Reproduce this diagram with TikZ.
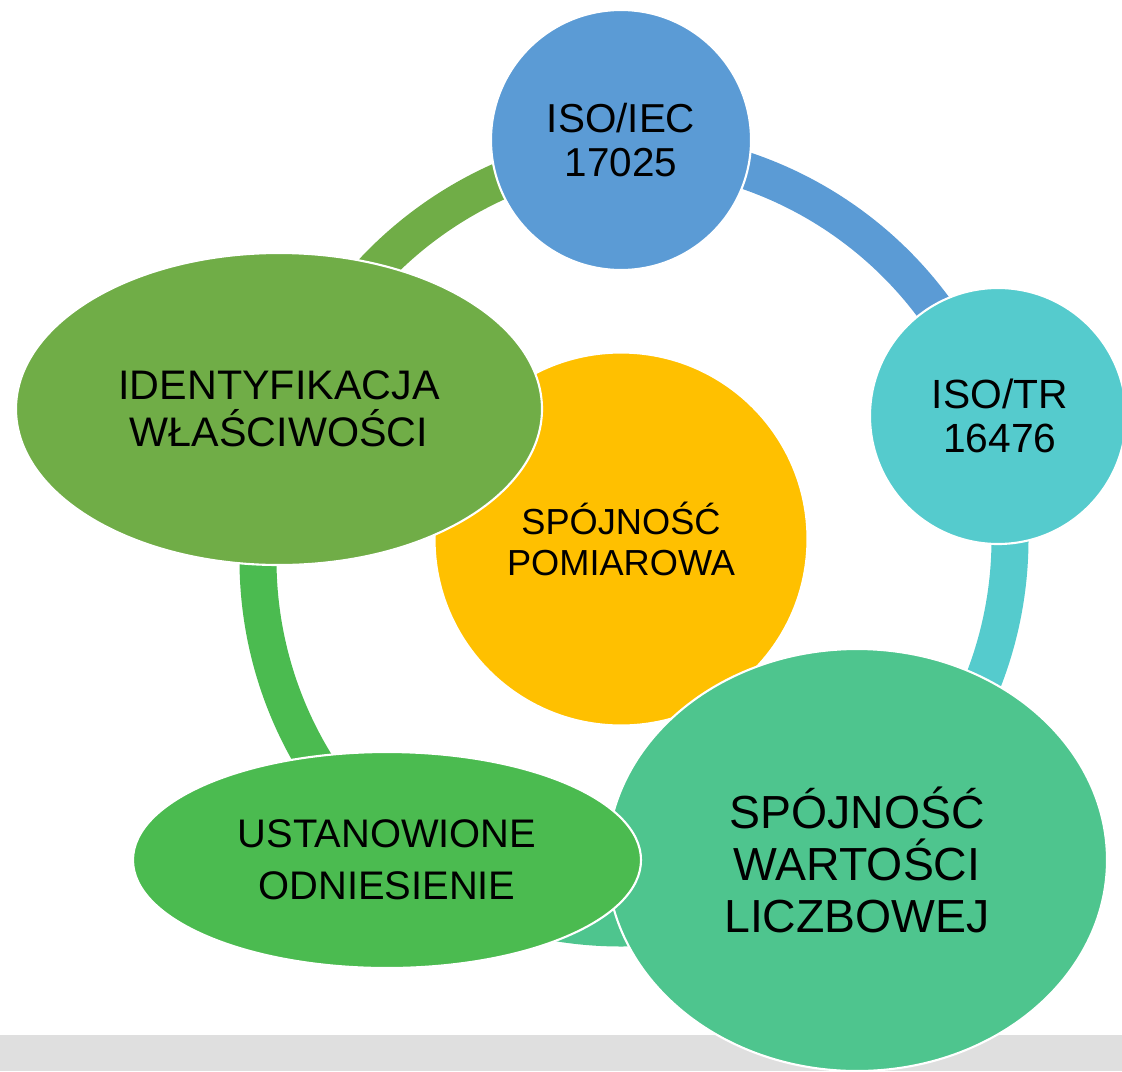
\documentclass[tikz,border=0pt]{standalone}
\usepackage{fontspec}
\setmainfont{Liberation Sans}
\usetikzlibrary{shapes.geometric}
\definecolor{isoblue}{HTML}{5B9BD5}
\definecolor{isoteal}{HTML}{55CBCD}
\definecolor{valgreen}{HTML}{4EC58E}
\definecolor{refgreen}{HTML}{4BBB50}
\definecolor{idgreen}{HTML}{70AD47}
\definecolor{coreyellow}{HTML}{FFC000}
\definecolor{footgray}{HTML}{DFDFDF}

\begin{document}
\begin{tikzpicture}[x=0.2mm,y=0.2mm,
    bubble/.style={draw=white,line width=1.2pt,align=center,inner sep=0pt,text=black},
    band/.style={line width=7.4mm}]
  \useasboundingbox (0,0) rectangle (1122,-1071);
  \fill[footgray] (0,-1035) rectangle (1122,-1071);
  % centres of the ring segments
  \coordinate (hub) at (621,-539);
  \coordinate (hubL) at (647,-560);
  \coordinate (hubT) at (660,-540);
  % ring segments, behind the bubbles
  \draw[band,isoblue] (hub) ++(85:389) arc[start angle=85,end angle=20,radius=389];
  \draw[band,isoteal] (hub) ++(10:389) arc[start angle=10,end angle=-40,radius=389];
  \draw[band,valgreen] (hub) ++(-60:389) arc[start angle=-60,end angle=-120,radius=389];
  \draw[band,refgreen] (hubL) ++(-135:389) arc[start angle=-135,end angle=-195,radius=389];
  \draw[band,idgreen] (hubT) ++(150:393) arc[start angle=150,end angle=100,radius=393];
  % bubbles
  \node[bubble,circle,fill=coreyellow,minimum size=7.46cm,
    font=\fontsize{20.6}{23.2}\selectfont] at (621,-539) (core) {SPÓJNOŚĆ\\POMIAROWA};
  \node[bubble,circle,fill=isoblue,minimum size=5.2cm,
    font=\fontsize{23}{25}\selectfont] at (621,-140) (iec) {ISO/IEC\\17025};
  \node[bubble,circle,fill=isoteal,minimum size=5.12cm,
    font=\fontsize{23.2}{25.5}\selectfont] at (998,-416) (tr) {\hspace*{2pt}ISO/TR\\\hspace*{2pt}16476};
  \node[bubble,ellipse,fill=idgreen,minimum width=10.52cm,minimum height=6.24cm,
    font=\fontsize{23.5}{26.6}\selectfont] at (279,-409) (ident) {IDENTYFIKACJA\\WŁAŚCIWOŚCI};
  \node[bubble,ellipse,fill=valgreen,minimum width=10cm,minimum height=8.44cm,
    font=\fontsize{26.4}{29.5}\selectfont] at (857,-860) (value) {SPÓJNOŚĆ\\WARTOŚCI\\LICZBOWEJ};
  \node[bubble,ellipse,fill=refgreen,minimum width=10.16cm,minimum height=4.32cm,
    font=\fontsize{22.7}{29.5}\selectfont] at (387,-860) (ref) {USTANOWIONE\\ODNIESIENIE};
\end{tikzpicture}
\end{document}
